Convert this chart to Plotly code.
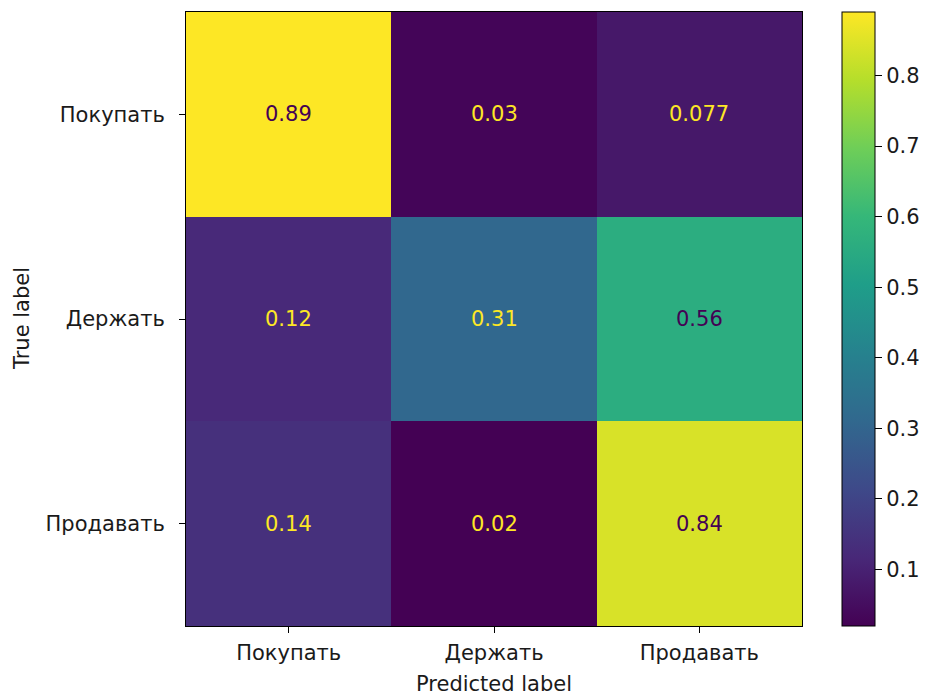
import plotly.graph_objects as go

labels = ["Покупать", "Держать", "Продавать"]
row_buy = [0.89, 0.03, 0.077]
row_hold = [0.12, 0.31, 0.56]
row_sell = [0.14, 0.02, 0.84]
cbar_ticks = [0.1, 0.2, 0.3, 0.4, 0.5, 0.6, 0.7, 0.8]

z = [row_buy, row_hold, row_sell]
zmin = min(min(r) for r in z)
zmax = max(max(r) for r in z)
thresh = (zmin + zmax) / 2

FONT = "DejaVu Sans"
FS = 21
TXT = "#1a1a1a"

# page offset of the rendered figure
OX, OY = 8, 7
W, H = 927 - OX, 695 - OY
L, T = 186 - OX, 11 - OY
R = W - (802 - OX)
B = H - (625 - OY)
PW = 802 - 186
PH = 625 - 11

fig = go.Figure(go.Heatmap(
    z=z, x=labels, y=labels,
    colorscale="Viridis", zmin=zmin, zmax=zmax,
    xgap=0, ygap=0,
    colorbar=dict(
        x=(842 - 186) / PW, xanchor="left", xref="paper",
        y=0.5, yanchor="middle", len=1, lenmode="fraction",
        thickness=33, outlinecolor="black", outlinewidth=1,
        xpad=0, ypad=0,
        ticks="outside", ticklen=7, tickcolor="black", tickwidth=1,
        tickprefix="\u00a0\u00a0",
        tickvals=cbar_ticks, tickfont=dict(family=FONT, size=FS, color=TXT),
    ),
    hoverinfo="skip",
))

annotations = []
for i, row in enumerate(z):
    for j, v in enumerate(row):
        annotations.append(dict(
            x=labels[j], y=labels[i], xref="x", yref="y",
            text=f"{v:.2g}", showarrow=False,
            font=dict(family=FONT, size=FS, color="#440154" if v >= thresh else "#fde725"),
        ))

annotations.append(dict(x=0.5, y=-(683 - 625) / PH, xref="paper", yref="paper",
                        text="Predicted label", showarrow=False, yanchor="middle",
                        font=dict(family=FONT, size=FS, color=TXT)))
annotations.append(dict(x=-(186 - 22) / PW, y=0.5, xref="paper", yref="paper",
                        text="True label", showarrow=False, textangle=-90,
                        xanchor="center", yanchor="middle",
                        font=dict(family=FONT, size=FS, color=TXT)))

fig.update_layout(
    width=W, height=H,
    margin=dict(l=L, r=R, t=T, b=B, autoexpand=False),
    paper_bgcolor="white", plot_bgcolor="white",
    font=dict(family=FONT, size=FS, color=TXT),
    annotations=annotations,
    xaxis=dict(ticks="outside", ticklen=6, tickcolor="black", showline=True,
               linecolor="black", linewidth=1, mirror=True, showgrid=False,
               zeroline=False, automargin=False, ticklabelstandoff=2,
               tickfont=dict(family=FONT, size=FS, color=TXT)),
    yaxis=dict(autorange="reversed", ticks="outside", ticklen=6, tickcolor="black",
               showline=True, linecolor="black", linewidth=1, mirror=True,
               showgrid=False, zeroline=False, automargin=False,
               ticklabelstandoff=10,
               tickfont=dict(family=FONT, size=FS, color=TXT)),
)

fig.write_html("out.html")
